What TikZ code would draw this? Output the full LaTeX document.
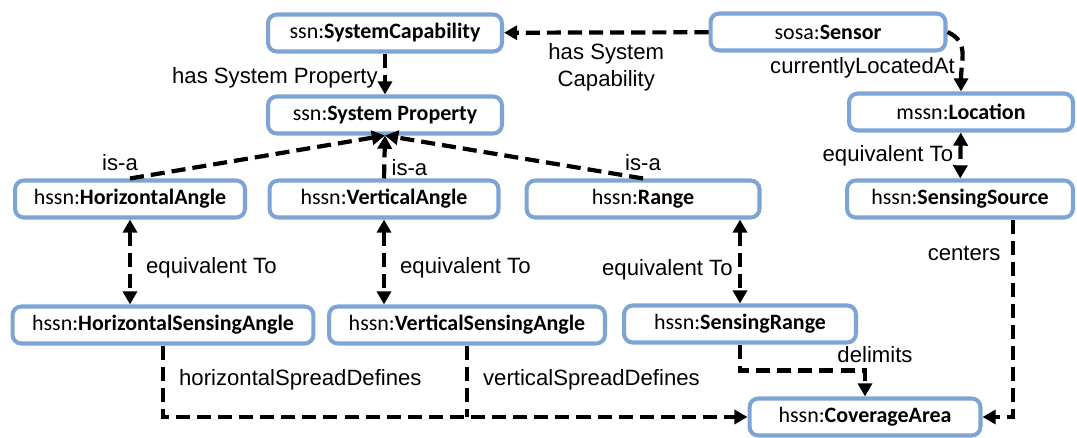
\documentclass[tikz,border=0pt]{standalone}
\usepackage{fontspec}
\setsansfont{Liberation Sans}
\newfontfamily\boxfont{Carlito}
\usepackage{tikz}
\usetikzlibrary{arrows.meta}

\definecolor{boxblue}{RGB}{126,164,212}

\begin{document}
\begin{tikzpicture}[x=0.02cm,y=-0.02cm,->,>={Triangle[length=7.5pt,width=8pt]},
        line width=2.4pt,dash pattern=on 8pt off 4pt,
        concept/.style={draw=boxblue,solid,line width=2.3pt,rounded corners=5pt,fill=white,
          minimum width=4.6cm,minimum height=0.74cm,inner sep=0pt,
          font=\boxfont\fontsize{12.5}{15}\selectfont},
        rel/.style={font=\sffamily\fontsize{12.6}{15.2}\selectfont,solid,inner sep=3pt}]

      \useasboundingbox (0,0) rectangle (1077,438);

      % classes
      \node[concept,minimum width=4.68cm] (cap) at (385,33) {ssn:\textbf{SystemCapability}};
      \node[concept,minimum width=4.70cm] (sensor) at (828,32) {sosa:\textbf{Sensor}};
      \node[concept,minimum width=4.68cm] (prop) at (385,115) {ssn:\textbf{System Property}};
      \node[concept,minimum width=4.48cm] (loc) at (961,112) {mssn:\textbf{Location}};
      \node[concept] (ha) at (130,199) {hssn:\textbf{HorizontalAngle}};
      \node[concept,minimum width=4.58cm] (va) at (384,199) {hssn:\textbf{VerticalAngle}};
      \node[concept,minimum width=4.66cm] (range) at (643,199) {hssn:\textbf{Range}};
      \node[concept,minimum width=4.52cm] (ss) at (960,199) {hssn:\textbf{SensingSource}};
      \node[concept,minimum width=6.02cm] (hsa) at (163,325) {hssn:\textbf{HorizontalSensingAngle}};
      \node[concept,minimum width=5.52cm] (vsa) at (467,325) {hssn:\textbf{VerticalSensingAngle}};
      \node[concept,minimum width=4.64cm] (sr) at (740,324) {hssn:\textbf{SensingRange}};
      \node[concept,minimum width=4.62cm] (cov) at (865,417) {hssn:\textbf{CoverageArea}};

      % relations
      \draw (sensor) -- node[rel,below,align=center,yshift=-2pt] {has System\\Capability} (cap);
      \draw (cap) -- node[rel,left,pos=0.6] {has System Property} (prop);
      \draw (sensor.east) .. controls +(22,10) and +(0,-32) ..
        node[rel,left,pos=0.72] {currentlyLocatedAt} (loc.north);
      \draw (ha.north) -- node[rel,at start,above,xshift=-0.2cm] {is-a} (prop.south);
      \draw (va.north) -- node[rel,right,pos=0.25] {is-a} (prop.south);
      \draw (range.north) -- node[rel,at start,above] {is-a} (prop.south);

      \draw[<->] (loc) -- node[rel,left] {equivalent To} (ss);
      \draw[<->] (ha.south) -- node[rel,right=5pt,pos=0.57] {equivalent To} (ha.south |- hsa.north);
      \draw[<->] (va.south) -- node[rel,right=5pt,pos=0.57] {equivalent To} (va.south |- vsa.north);
      \draw[<->] (range.south -| sr.north) -- node[rel,left,pos=0.6] {equivalent To} (sr.north);

      \draw ([xshift=1.06cm]ss.south) |- node[rel,left=3pt,pos=0.085] {centers} (cov.east);
      \draw (sr.south) -- ++(0,26) -| node[rel,above,pos=0.5,xshift=0.2cm] {delimits} (cov.north);
      \draw (hsa.south) |- node[rel,right=5pt,pos=0.24] {horizontalSpreadDefines} (cov.west);
      \draw[-] (vsa.south) -- node[rel,right=5pt,pos=0.48] {verticalSpreadDefines} (vsa.south |- cov.west);
\end{tikzpicture}
\end{document}
